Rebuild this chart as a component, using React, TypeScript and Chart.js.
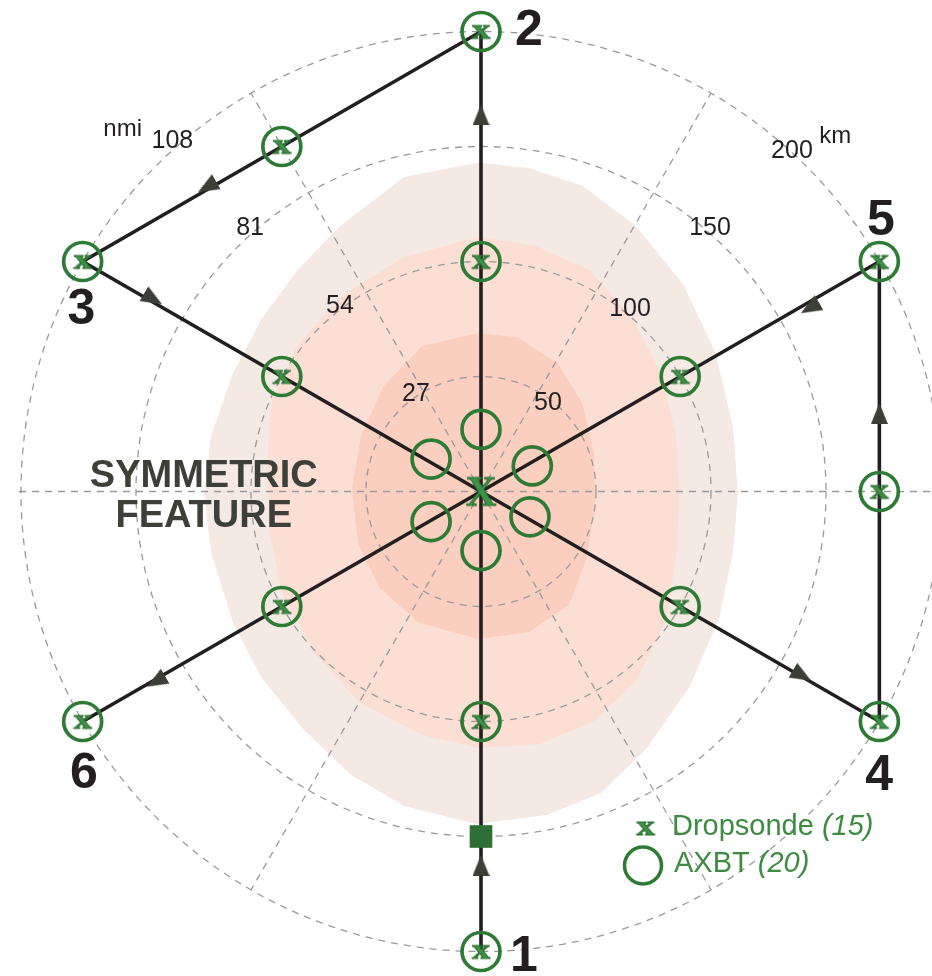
import { useEffect, useRef } from 'react';
import { Chart, registerables } from 'chart.js';

Chart.register(...registerables);

// ---------------- data (km from storm centre) ----------------
// flight track: 1 -> C -> 2 -> 3 -> C -> 4 -> 5 -> C -> 6
const flightX = [0, 0, 0, -173.2, 0, 173.2, 173.2, 0, -173.2];
const flightY = [-200, 0, 200, 100, 0, -100, 100, 0, -100];
const waypointLabels = ['1', '2', '3', '4', '5', '6'];
const waypointIdx = [0, 2, 3, 5, 6, 8];

// dropsondes (15)
const dropsondeX = [0, 0, 0, 0, 0, -86.6, -173.2, -86.6, 86.6, 173.2, 173.2, 173.2, 86.6, -86.6, -173.2];
const dropsondeY = [-200, -100, 0, 100, 200, 150, 100, 50, -50, -100, 0, 100, 50, -50, -100];

// AXBTs (20)
const axbtX = [0, 0, -173.2, 173.2, 173.2, -173.2, -86.6, 173.2, 0, 0, 86.6, -86.6, 86.6, -86.6, 0, -21.7, 22.3, -21.7, 21.3, 0];
const axbtY = [-200, 200, 100, -100, 100, -100, 150, 0, 100, -100, 50, 50, -50, -50, 27, 14.1, 11.1, -13.1, -11.0, -25.7];

// launch square
const squareX = [0];
const squareY = [-150];

// direction arrows along the track (leg = index of the leg's first waypoint)
const arrowX = [0, 0, -119.1, -142.6, 139.6, 173.2, 143.0, -141.3];
const arrowY = [-162.6, 163.7, 132.4, 83.7, -80.0, 33.9, 79.8, -82.6];
const arrowLeg = [0, 1, 2, 3, 4, 5, 6, 7];

// range rings
const ringKm = [50, 100, 150, 200];
const ringKmLabels = ['50', '100', '150', '200'];
const ringNmiLabels = ['27', '54', '81', '108'];
const spokeDeg = [0, 30, 60, 90, 120, 150, 180, 210, 240, 270, 300, 330];

// symmetric feature shading (outline vertices, km)
const outerX = [-0.9, 20.9, 44.3, 67.4, 87.8, 101.7, 109.6, 111.7, 109.6, 103.5, 90.9, 72.2, 52.2, 28.7, -2.2, -33.5, -56.5, -77.0, -95.7, -107.8, -117.4, -120.4, -117.4, -107.8, -95.7, -80.0, -61.3, -33.5];
const outerY = [143.0, 140.7, 132.8, 115.4, 90.2, 61.1, 28.0, -1.1, -26.3, -55.4, -84.6, -111.5, -131.1, -140.7, -144.6, -136.7, -123.3, -103.7, -80.7, -57.2, -26.3, -1.1, 24.1, 51.5, 74.6, 96.1, 115.4, 136.7];
const middleX = [-0.9, 23.9, 47.4, 66.1, 78.3, 84.8, 86.1, 85.2, 80.0, 67.4, 49.1, 25.7, -0.9, -25.7, -52.2, -72.2, -86.1, -92.2, -93.0, -90.9, -80.0, -61.3, -33.5];
const middleY = [110.7, 106.7, 96.1, 74.6, 51.5, 24.1, -1.1, -26.3, -57.2, -82.4, -99.8, -109.8, -111.5, -105.9, -92.2, -70.7, -45.4, -16.3, 12.8, 39.8, 63.3, 84.6, 102.0];
const innerX = [-0.9, 16.5, 33.5, 44.3, 49.1, 49.6, 45.7, 38.3, 20.9, -0.9, -27.0, -44.3, -53.5, -56.1, -52.2, -42.6, -25.7];
const innerY = [68.9, 67.0, 55.4, 37.8, 16.3, -6.7, -29.8, -49.3, -61.1, -64.1, -57.2, -41.7, -22.4, 1.1, 24.1, 45.4, 63.3];

const featureLines = ['SYMMETRIC', 'FEATURE'];
const legendLabels = ['Dropsonde', 'AXBT'];

// ---------------- layout ----------------
const W = 932;
const H = 976;
const PX_PER_KM = 2.3;
const CX = 481;
const CY = 491.5;

const pts = (xs: number[], ys: number[]) => xs.map((x, i) => ({ x, y: ys[i] }));

function makeGlyph(ch: string, font: string, w: number, h: number, stretch: number, fill: string, stroke: string, lw: number) {
  const c = document.createElement('canvas');
  c.width = w;
  c.height = h;
  const g = c.getContext('2d')!;
  g.font = font;
  g.textAlign = 'left';
  g.textBaseline = 'alphabetic';
  const m = g.measureText(ch);
  const x = -(m.actualBoundingBoxRight - m.actualBoundingBoxLeft) / 2;
  const y = (m.actualBoundingBoxAscent - m.actualBoundingBoxDescent) / 2;
  g.translate(w / 2, h / 2);
  g.scale(stretch, 1);
  g.fillStyle = fill;
  g.fillText(ch, x, y);
  g.strokeStyle = stroke;
  g.lineWidth = lw;
  g.strokeText(ch, x, y);
  return c;
}

function makeArrow(w: number, h: number, color: string) {
  const c = document.createElement('canvas');
  c.width = w;
  c.height = h;
  const g = c.getContext('2d')!;
  g.fillStyle = color;
  g.beginPath();
  g.moveTo(w / 2, 0);
  g.lineTo(w, h);
  g.lineTo(0, h);
  g.closePath();
  g.fill();
  return c;
}

function inkText(ctx: CanvasRenderingContext2D, text: string, cx: number, cy: number) {
  ctx.textAlign = 'left';
  ctx.textBaseline = 'alphabetic';
  const m = ctx.measureText(text);
  const x = cx - (m.actualBoundingBoxRight - m.actualBoundingBoxLeft) / 2;
  const y = cy + (m.actualBoundingBoxAscent - m.actualBoundingBoxDescent) / 2;
  ctx.fillText(text, x, y);
}

export default function App() {
  const ref = useRef<HTMLCanvasElement>(null);

  useEffect(() => {
    document.body.style.margin = '0';
    const canvas = ref.current!;
    const GREEN = '#2e7b35';
    const smallX = makeGlyph('x', 'bold 28px "Liberation Serif"', 28, 24, 1.3, '#3d9446', '#2a6e30', 0.9);
    const bigX = makeGlyph('X', 'bold 42px "Liberation Serif"', 42, 40, 1, '#3d9446', '#2a6e30', 1);
    const arrowImg = makeArrow(17, 21, '#3c3e38');

    const arrowRot = arrowLeg.map((leg) => {
      const dx = flightX[leg + 1] - flightX[leg];
      const dy = flightY[leg + 1] - flightY[leg];
      const th = (Math.atan2(dy, dx) * 180) / Math.PI;
      return 90 - th;
    });

    const decor = {
      id: 'decor',
      afterDatasetDraw(chart: any, args: any) {
        if (chart.data.datasets[args.index].label !== 'inner') return;
        const ctx = chart.ctx as CanvasRenderingContext2D;
        const sx = chart.scales.x;
        const sy = chart.scales.y;
        const ox = sx.getPixelForValue(0);
        const oy = sy.getPixelForValue(0);
        const k = sx.getPixelForValue(1) - ox;
        ctx.save();
        ctx.setLineDash([7, 6]);
        ctx.strokeStyle = '#9a9a9a';
        ctx.lineWidth = 1.3;
        ringKm.forEach((r) => {
          ctx.beginPath();
          ctx.arc(ox, oy, r * k, 0, Math.PI * 2);
          ctx.stroke();
        });
        spokeDeg.forEach((d) => {
          const len = d % 180 === 0 ? 203 : 200;
          const a = (d * Math.PI) / 180;
          ctx.beginPath();
          ctx.moveTo(ox, oy);
          ctx.lineTo(sx.getPixelForValue(len * Math.cos(a)), sy.getPixelForValue(len * Math.sin(a)));
          ctx.stroke();
        });
        ctx.restore();
      },
      afterDatasetsDraw(chart: any) {
        const ctx = chart.ctx as CanvasRenderingContext2D;
        const sx = chart.scales.x;
        const sy = chart.scales.y;
        const polar = (r: number, deg: number) => {
          const a = (deg * Math.PI) / 180;
          return [sx.getPixelForValue(r * Math.cos(a)), sy.getPixelForValue(r * Math.sin(a))];
        };
        ctx.save();
        // ring labels
        ctx.fillStyle = '#231f20';
        ctx.font = '25px "Liberation Sans"';
        const kmPos = [[49, 53.5], [103, 51], [152.4, 49.2], [201.3, 47.8]];
        ringKmLabels.forEach((t, i) => {
          const [px, py] = polar(kmPos[i][0], kmPos[i][1]);
          inkText(ctx, t, px, py);
        });
        const nmiPos = [[51.5, 123.3], [101.7, 126.9], [153, 131], [203.7, 131.2]];
        ringNmiLabels.forEach((t, i) => {
          const [px, py] = polar(nmiPos[i][0], nmiPos[i][1]);
          inkText(ctx, t, px, py);
        });
        ctx.font = '24px "Liberation Sans"';
        {
          const [px, py] = polar(218.6, 45.2);
          inkText(ctx, 'km', px, py);
          const [qx, qy] = polar(222, 134.6);
          inkText(ctx, 'nmi', qx, qy);
        }
        // waypoint numbers
        ctx.font = 'bold 50px "Liberation Sans"';
        const offs = [[44, 1.5], [47.5, -5], [-1.6, 44], [0, 51], [1.6, -44], [0.9, 48]];
        waypointLabels.forEach((t, i) => {
          const j = waypointIdx[i];
          const px = sx.getPixelForValue(flightX[j]) + offs[i][0];
          const py = sy.getPixelForValue(flightY[j]) + offs[i][1];
          inkText(ctx, t, px, py);
        });
        // feature label
        ctx.fillStyle = '#3d3f38';
        ctx.font = 'bold 38px "Liberation Sans"';
        inkText(ctx, featureLines[0], sx.getPixelForValue(-120.4), sy.getPixelForValue(7.8));
        inkText(ctx, featureLines[1], sx.getPixelForValue(-120.4), sy.getPixelForValue(-9.6));
        // legend
        const LG = '#3d8c40';
        ctx.drawImage(smallX, 645.5 - smallX.width / 2, 828 - smallX.height / 2);
        ctx.strokeStyle = GREEN;
        ctx.lineWidth = 3.5;
        ctx.beginPath();
        ctx.arc(643, 865.5, 18.5, 0, Math.PI * 2);
        ctx.stroke();
        ctx.fillStyle = LG;
        ctx.textAlign = 'left';
        ctx.textBaseline = 'alphabetic';
        const counts = [dropsondeX.length, axbtX.length];
        const baselines = [835, 871.5];
        legendLabels.forEach((t, i) => {
          ctx.font = '29px "Liberation Sans"';
          const m = ctx.measureText(t);
          const x0 = 674 + m.actualBoundingBoxLeft;
          ctx.fillText(t, x0, baselines[i]);
          const w = ctx.measureText(t + ' ').width;
          ctx.font = 'italic 29px "Liberation Sans"';
          ctx.fillText('(' + counts[i] + ')', x0 + w, baselines[i]);
        });
        ctx.restore();
      },
    };

    const shade = (label: string, xs: number[], ys: number[], color: string, order: number) => ({
      label,
      data: pts(xs, ys),
      showLine: true,
      fill: 'shape',
      backgroundColor: color,
      borderColor: 'rgba(0,0,0,0)',
      borderWidth: 0,
      pointRadius: 0,
      tension: 0,
      order,
    });

    const chart = new Chart(canvas, {
      type: 'scatter',
      data: {
        datasets: [
          {
            label: 'Dropsonde',
            data: pts(dropsondeX, dropsondeY),
            pointStyle: dropsondeX.map((x, i) => (x === 0 && dropsondeY[i] === 0 ? bigX : smallX)),
            pointRadius: 10,
            order: 1,
          } as any,
          {
            label: 'square',
            data: pts(squareX, squareY),
            pointStyle: 'rect',
            pointRadius: 16,
            backgroundColor: '#2f6f36',
            borderColor: '#2f6f36',
            borderWidth: 0,
            order: 2,
          },
          {
            label: 'AXBT',
            data: pts(axbtX, axbtY),
            pointStyle: 'circle',
            pointRadius: 19,
            borderWidth: 3.7,
            borderColor: GREEN,
            backgroundColor: 'rgba(0,0,0,0)',
            order: 3,
          },
          {
            label: 'arrows',
            data: pts(arrowX, arrowY),
            pointStyle: arrowImg,
            pointRotation: arrowRot,
            pointRadius: 10,
            order: 4,
          } as any,
          {
            label: 'track',
            data: pts(flightX, flightY),
            showLine: true,
            borderColor: '#231f20',
            borderWidth: 3.6,
            pointRadius: 0,
            fill: false,
            order: 5,
          },
          shade('inner', innerX, innerY, '#fbcfbf', 6) as any,
          shade('middle', middleX, middleY, '#fbdfd4', 7) as any,
          shade('outer', outerX, outerY, '#f5e9e4', 8) as any,
        ],
      },
      options: {
        responsive: false,
        animation: false,
        devicePixelRatio: 1,
        events: [],
        layout: { padding: 0, autoPadding: false },
        scales: {
          x: { type: 'linear', display: false, min: -CX / PX_PER_KM, max: (W - CX) / PX_PER_KM },
          y: { type: 'linear', display: false, min: -(H - CY) / PX_PER_KM, max: CY / PX_PER_KM },
        },
        plugins: {
          legend: { display: false },
          tooltip: { enabled: false },
        },
      },
      plugins: [decor],
    });
    return () => chart.destroy();
  }, []);

  return (
    <div style={{ position: 'absolute', left: 0, top: 0, width: W, height: H, background: '#fff' }}>
      <canvas ref={ref} width={W} height={H} style={{ width: W, height: H, display: 'block' }} />
    </div>
  );
}
